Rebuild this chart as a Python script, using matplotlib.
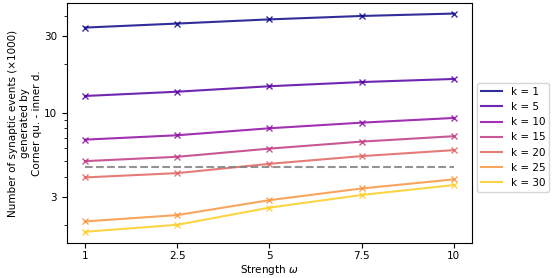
import numpy as np
import matplotlib
matplotlib.use('Agg')
import matplotlib.pyplot as plt
from matplotlib.ticker import FixedLocator, NullFormatter, LogLocator
from matplotlib.lines import Line2D

strengths = ['1', '2.5', '5', '7.5', '10']
ks = [1, 5, 10, 15, 20, 25, 30]
events = [
    [33.8, 35.8, 38.0, 39.9, 41.3],   # k = 1
    [12.7, 13.5, 14.6, 15.5, 16.2],   # k = 5
    [6.8, 7.24, 8.0, 8.67, 9.27],     # k = 10
    [5.0, 5.32, 5.98, 6.61, 7.14],    # k = 15
    [3.96, 4.21, 4.81, 5.37, 5.85],   # k = 20
    [2.11, 2.31, 2.86, 3.38, 3.85],   # k = 25
    [1.82, 2.01, 2.57, 3.08, 3.55],   # k = 30
]
reference = 4.61

plt.rcParams['font.size'] = 7.5
fig, ax = plt.subplots(figsize=(5.56, 2.78), dpi=100)
colors = plt.cm.plasma(np.linspace(0, 0.9, len(ks)))
x = np.arange(len(strengths))
handles = []
for k, vals, c in zip(ks, events, colors):
    ax.plot(x, vals, marker='x', markersize=5, color=c, alpha=0.85)
    handles.append(Line2D([], [], color=c, alpha=0.85, label='k = %d' % k))
ax.plot(x, [reference] * len(x), '--', color='gray', alpha=0.85)

ax.set_yscale('log')
ax.set_ylim(1.55, 48)
ax.yaxis.set_major_locator(FixedLocator([3, 10, 30]))
ax.yaxis.set_major_formatter(plt.FixedFormatter(['3', '10', '30']))
ax.yaxis.set_minor_locator(LogLocator(base=10, subs=np.arange(2, 10)))
ax.yaxis.set_minor_formatter(NullFormatter())
ax.set_xticks(x)
ax.set_xticklabels(strengths)
ax.tick_params(axis='x', pad=2.5)
ax.set_xlabel(r'Strength $\omega$', labelpad=1)
ax.set_ylabel('Number of synaptic events (×1000)\ngenerated by\nCorner qu. - inner d.',
              multialignment='center', linespacing=1.3, labelpad=1)
ax.legend(handles=handles, loc='center left', bbox_to_anchor=(1.0, 0.44),
          bbox_transform=ax.transAxes)
fig.subplots_adjust(left=0.12, right=0.849, top=0.989, bottom=0.126)
fig.savefig('out.png', dpi=100)
